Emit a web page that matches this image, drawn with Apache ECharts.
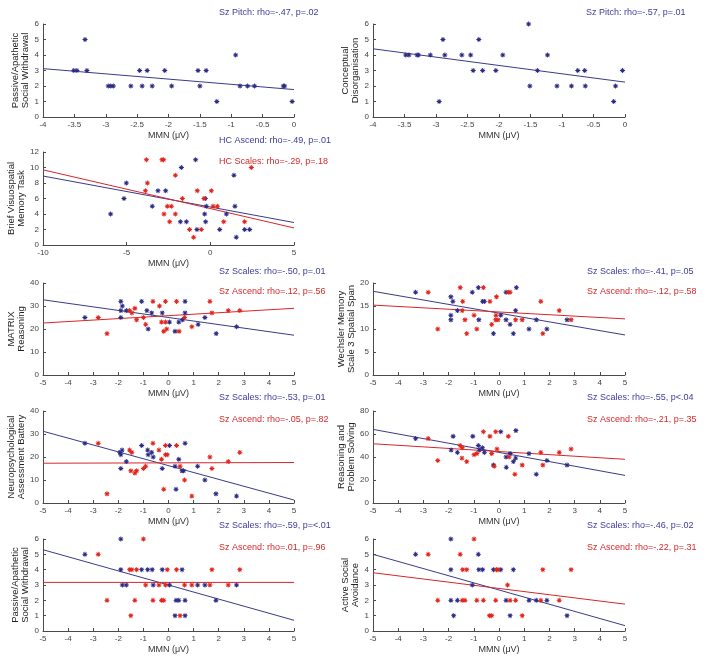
<!DOCTYPE html>
<html><head><meta charset="utf-8">
<script src="https://cdn.jsdelivr.net/npm/echarts@6/dist/echarts.min.js"></script>
<style>html,body{margin:0;padding:0;background:#fff}#c{width:710px;height:662px}</style>
</head><body><div id="c"></div>
<script>
// ---- data ----
// Row 1 left: Sz Pitch vs Passive/Apathetic Social Withdrawal
const Ax = [-3.51,-3.46,-3.33,-3.30,-2.96,-2.92,-2.88,-2.60,-2.46,-2.42,-2.34,-2.26,-2.06,-1.95,-1.53,-1.50,-1.40,-1.23,-0.93,-0.86,-0.74,-0.63,-0.17,-0.15,-0.03];
const Ay = [3,3,5,3,2,2,2,2,3,2,3,2,3,2,3,2,3,1,4,2,2,2,2,2,1];
const Aline = [[-4,3.12],[0,1.77]];
// Row 1 right: Sz Pitch vs Conceptual Disorganisation
const Bx = [-3.48,-3.43,-3.30,-3.28,-3.09,-2.95,-2.89,-2.86,-2.59,-2.45,-2.41,-2.32,-2.26,-2.05,-1.94,-1.53,-1.51,-1.39,-1.23,-1.08,-0.85,-0.75,-0.64,-0.63,-0.18,-0.15,-0.04];
const By = [4,4,4,4,4,1,5,4,4,4,3,5,3,3,4,6,2,3,4,2,2,3,3,2,1,2,3];
const Bline = [[-4,4.4],[0,2.25]];
// Row 2: HC Ascend (blue), HC Scales (red) vs Brief Visuospatial Memory Task
const Cbx = [-5.96,-5.02,-5.16,-3.47,-3.13,-2.67,-1.73,-1.79,-1.43,-0.88,-0.80,-0.34,-0.30,-0.28,-0.24,0.56,0.96,1.41,1.47,1.55,2.05,2.35];
const Cby = [4,8,6,5,7,7,10,3,3,11,2,4,6,3,5,2,4,9,5,1,2,2];
const Crx = [-3.82,-3.76,-3.88,-2.89,-2.79,-2.77,-2.57,-2.33,-2.43,-2.09,-2.09,-1.67,-1.24,-1.00,-0.78,-0.54,-0.38,0.06,0.16,0.42,0.80,2.05,2.45];
const Cry = [11,8,7,11,11,4,5,5,3,4,9,6,2,1,7,2,6,7,5,5,3,3,10];
const Cbline = [[-10,8.9],[5,2.9]];
const Crline = [[-10,9.7],[5,2.2]];
// Row 3 left: MATRIX Reasoning
const Dbx = [-3.33,-1.90,-1.90,-1.90,-1.84,-1.68,-1.07,-0.86,-0.81,-0.67,-0.25,0.04,0.26,0.41,0.56,0.66,0.66,1.18,1.45,1.90,2.71];
const Dby = [25,32,28,25,30,28,32,28,20,27,27,23,19,23,24,32,27,22,25,18,21];
const Drx = [-2.80,-2.45,-1.55,-1.46,-1.34,-1.27,-1.00,-0.91,-0.62,-0.36,-0.28,-0.19,-0.12,-0.12,-0.07,0.32,0.42,0.64,0.93,1.65,1.73,2.38,2.84];
const Dry = [25,18,28,27,29,24,25,22,32,30,23,19,23,32,20,32,19,25,21,32,27,28,28];
const Dbline = [[-5,32.7],[5,17.3]];
const Drline = [[-5,22.6],[5,29.0]];
// Row 3 right: Wechsler Memory Scale 3 Spatial Span
const Ebx = [-3.31,-1.91,-1.91,-1.91,-1.83,-1.65,-1.06,-0.82,-0.80,-0.65,-0.58,-0.22,0.07,0.28,0.28,0.44,0.57,0.66,0.69,1.19,1.48,1.90,2.70];
const Eby = [18,17,13,12,16,14,18,19,12,16,16,9,13,12,18,11,9,14,19,10,12,10,12];
const Erx = [-2.81,-2.43,-1.54,-1.46,-1.44,-1.35,-1.28,-0.99,-0.88,-0.62,-0.36,-0.29,-0.13,-0.12,-0.10,-0.04,0.37,0.44,0.66,0.92,1.66,1.74,2.39,2.86];
const Ery = [18,10,19,14,16,12,9,13,10,19,16,11,12,13,17,12,18,18,12,12,16,9,14,12];
const Ebline = [[-5,18.2],[5,8.7]];
const Erline = [[-5,15.2],[5,12.2]];
// Row 4 left: Neuropsychological Assessment Battery
const Fbx = [-3.33,-1.94,-1.90,-1.85,-1.90,-1.68,-1.07,-0.83,-0.81,-0.67,-0.61,-0.25,0.04,0.26,0.30,0.41,0.54,0.60,0.66,1.16,1.45,1.89,2.71];
const Fby = [26,22,21,23,15,18,25,23,21,22,20,15,25,16,6,19,14,14,26,16,10,4,3];
const Frx = [-2.80,-2.45,-1.55,-1.46,-1.50,-1.34,-1.27,-1.00,-0.91,-0.62,-0.38,-0.28,-0.19,-0.12,-0.12,-0.05,0.32,0.46,0.64,0.93,1.65,1.73,2.38,2.84];
const Fry = [26,4,23,22,14,13,14,15,16,26,23,19,6,21,25,21,25,16,10,3,20,15,18,22];
const Fbline = [[-5,31.2],[5,1.3]];
const Frline = [[-5,17.3],[5,17.6]];
// Row 4 right: Reasoning and Problem Solving
const Gbx = [-3.31,-1.90,-1.82,-1.65,-1.04,-0.82,-0.78,-0.66,-0.58,-0.22,0.07,0.28,0.29,0.44,0.57,0.66,0.67,1.19,1.48,1.90,2.70];
const Gby = [56,46,58,44,58,50,46,48,44,33,62,40,31,43,36,39,63,43,25,37,33];
const Grx = [-2.81,-2.43,-1.54,-1.46,-1.47,-1.28,-0.99,-0.88,-0.62,-0.36,-0.29,-0.19,-0.13,-0.08,0.37,0.40,0.63,0.92,1.66,1.74,2.39,2.86];
const Gry = [56,37,50,48,39,36,42,43,62,58,43,32,62,47,58,40,25,33,44,33,44,47];
const Gbline = [[-5,64],[5,24]];
const Grline = [[-5,51.5],[5,38]];
// Row 5 left: Passive/Apathetic Social Withdrawal
const Hbx = [-3.33,-1.90,-1.90,-1.84,-1.68,-1.07,-0.83,-0.65,-0.61,-0.25,0.04,0.26,0.30,0.41,0.54,0.66,0.66,1.16,1.45,1.89,2.71];
const Hby = [5,6,4,3,3,4,4,4,3,4,3,1,2,2,4,1,2,3,3,2,3];
const Hrx = [-2.80,-2.45,-1.55,-1.50,-1.46,-1.34,-1.27,-1.00,-0.91,-0.62,-0.38,-0.28,-0.19,-0.12,-0.05,0.32,0.46,0.64,0.93,1.65,1.73,2.38,2.84];
const Hry = [5,2,4,1,4,2,4,6,3,2,3,2,2,3,4,4,1,3,3,3,4,3,4];
const Hbline = [[-5,5.3],[5,0.7]];
const Hrline = [[-5,3.17],[5,3.17]];
// Row 5 right: Active Social Avoidance
const Ibx = [-3.31,-1.91,-1.91,-1.91,-1.80,-1.65,-1.06,-0.82,-0.80,-0.65,-0.22,0.07,0.28,0.44,0.57,1.19,1.48,1.90,2.70];
const Iby = [5,6,4,2,1,2,3,5,4,4,4,4,2,1,4,2,2,2,1];
const Irx = [-2.81,-2.43,-1.54,-1.46,-1.44,-1.35,-1.28,-0.99,-0.88,-0.62,-0.38,-0.29,-0.13,-0.10,-0.04,0.34,0.44,0.66,0.92,1.66,1.74,2.39,2.86];
const Iry = [5,2,5,2,4,2,4,6,2,2,1,1,2,4,4,3,2,2,1,2,4,2,4];
const Ibline = [[-5,5.0],[5,0.35]];
const Irline = [[-5,3.8],[5,1.75]];

// ---- styling / layout ----
const BLUE_PT = '#2b2b86', RED_PT = '#e2231a';
const BLUE_LN = '#3a3a8c', RED_LN = '#d8262b';
const BLUE_TX = '#3c3c9c', RED_TX = '#d42a2a';
const FONT = 'Liberation Sans, Arial, sans-serif';
const XNAME = 'MMN (\u03bcV)';
// asterisk marker (MATLAB '*')
const STAR = 'path://M-1,-0.18L1,-0.18L1,0.18L-1,0.18ZM-0.18,-1L0.18,-1L0.18,1L-0.18,1ZM-0.83,-0.57L-0.57,-0.83L0.83,0.57L0.57,0.83ZM0.57,-0.83L0.83,-0.57L-0.57,0.83L-0.83,0.57Z';

const panels = [
  {g:[43,24,251,93], xr:[-4,0,0.5], yr:[0,6,1], yn:'Passive/Apathetic\nSocial Withdrawal',
   s:[[Ax,Ay,Aline,'b']], notes:[['Sz Pitch: rho=-.47, p=.02','b',219,13]]},
  {g:[373,24,252,93], xr:[-4,0,0.5], yr:[0,6,1], yn:'Conceptual\nDisorganisation',
   s:[[Bx,By,Bline,'b']], notes:[['Sz Pitch: rho=-.57, p=.01','b',586,13]]},
  {g:[43,152,251,93], xr:[-10,5,5], yr:[0,12,2], yn:'Brief Visuospatial\nMemory Task',
   s:[[Cbx,Cby,Cbline,'b'],[Crx,Cry,Crline,'r']], notes:[['HC Ascend: rho=-.49, p=.01','b',219,141],['HC Scales: rho=-.29, p=.18','r',219,162]]},
  {g:[43,283,251,92], xr:[-5,5,1], yr:[0,40,10], yn:'MATRIX\nReasoning',
   s:[[Dbx,Dby,Dbline,'b'],[Drx,Dry,Drline,'r']], notes:[['Sz Scales: rho=-.50, p=.01','b',219,272],['Sz Ascend: rho=.12, p=.56','r',219,292]]},
  {g:[373,283,252,92], xr:[-5,5,1], yr:[0,20,5], yn:'Wechsler Memory\nScale 3 Spatial Span',
   s:[[Ebx,Eby,Ebline,'b'],[Erx,Ery,Erline,'r']], notes:[['Sz Scales: rho=-.41, p=.05','b',587,272],['Sz Ascend: rho=-.12, p=.58','r',587,292]]},
  {g:[43,411,251,92], xr:[-5,5,1], yr:[0,40,10], yn:'Neuropsychological\nAssessment Battery',
   s:[[Fbx,Fby,Fbline,'b'],[Frx,Fry,Frline,'r']], notes:[['Sz Scales: rho=-.53, p=.01','b',219,398],['Sz Ascend: rho=-.05, p=.82','r',219,420]]},
  {g:[373,411,252,92], xr:[-5,5,1], yr:[0,80,20], yn:'Reasoning and\nProblem Solving',
   s:[[Gbx,Gby,Gbline,'b'],[Grx,Gry,Grline,'r']], notes:[['Sz Scales: rho=-.55, p<.04','b',587,398],['Sz Ascend: rho=-.21, p=.35','r',587,420]]},
  {g:[43,539,251,92], xr:[-5,5,1], yr:[0,6,1], yn:'Passive/Apathetic\nSocial Withdrawal',
   s:[[Hbx,Hby,Hbline,'b'],[Hrx,Hry,Hrline,'r']], notes:[['Sz Scales: rho=-.59, p=<.01','b',219,526],['Sz Ascend: rho=.01, p=.96','r',219,548]]},
  {g:[373,539,252,92], xr:[-5,5,1], yr:[0,6,1], yn:'Active Social\nAvoidance',
   s:[[Ibx,Iby,Ibline,'b'],[Irx,Iry,Irline,'r']], notes:[['Sz Scales: rho=-.46, p=.02','b',587,526],['Sz Ascend: rho=-.22, p=.31','r',587,548]]}
];

const grid = [], xAxis = [], yAxis = [], series = [], graphic = [];
const axisCommon = () => ({
  axisLine:{show:true, onZero:false, lineStyle:{color:'#4a4a4a', width:1}},
  axisTick:{show:true, inside:true, length:3, lineStyle:{color:'#4a4a4a'}},
  axisLabel:{fontFamily:FONT, fontSize:8, color:'#444', margin:4},
  splitLine:{show:false}
});
panels.forEach((p,i)=>{
  grid.push({left:p.g[0], top:p.g[1], width:p.g[2], height:p.g[3], containLabel:false});
  xAxis.push(Object.assign({gridIndex:i, type:'value', min:p.xr[0], max:p.xr[1], interval:p.xr[2],
    name:XNAME, nameLocation:'middle', nameGap:14,
    nameTextStyle:{fontFamily:FONT, fontSize:9, color:'#333'}}, axisCommon()));
  yAxis.push(Object.assign({gridIndex:i, type:'value', min:p.yr[0], max:p.yr[1], interval:p.yr[2],
    name:p.yn, nameLocation:'middle', nameGap:11, nameRotate:90,
    nameTextStyle:{fontFamily:FONT, fontSize:9.5, color:'#222', lineHeight:10}}, axisCommon()));
  p.s.forEach(([xs,ys,ln,c])=>{
    series.push({type:'line', xAxisIndex:i, yAxisIndex:i, data:ln, symbol:'none', silent:true,
      lineStyle:{color:c==='b'?BLUE_LN:RED_LN, width:1}, z:2, animation:false});
  });
  p.s.forEach(([xs,ys,ln,c])=>{
    series.push({type:'scatter', xAxisIndex:i, yAxisIndex:i, data:xs.map((x,k)=>[x,ys[k]]),
      symbol:STAR, symbolSize:5, itemStyle:{color:c==='b'?BLUE_PT:RED_PT, opacity:1}, z:3, animation:false});
  });
  p.notes.forEach(([t,c,x,y])=>{
    graphic.push({type:'text', left:x, top:y-5, style:{text:t, fill:c==='b'?BLUE_TX:RED_TX,
      font:'9px '+FONT}});
  });
});

const chart = echarts.init(document.getElementById('c'), null, {renderer:'canvas'});
chart.setOption({animation:false, backgroundColor:'#fff', grid, xAxis, yAxis, series, graphic});
</script></body></html>
